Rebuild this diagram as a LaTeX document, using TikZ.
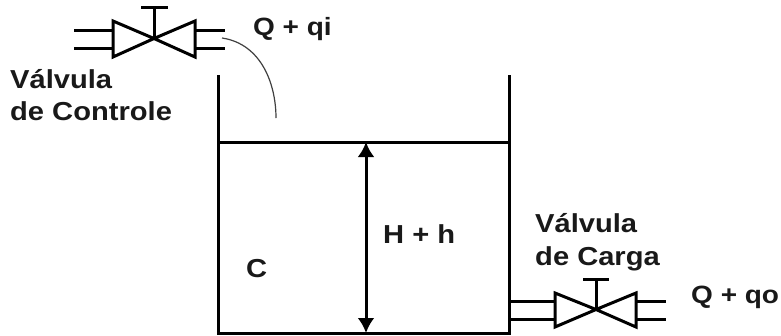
\documentclass[tikz,border=0pt]{standalone}
\usepackage{fontspec}
\setmainfont[FakeStretch=1.12]{Liberation Sans}
\usetikzlibrary{arrows.meta}
\tikzset{
  ln/.style={draw=black,line width=3pt},
  flowcurve/.style={draw=black!75,line width=1.2pt},
  lbl/.style={font=\fontsize{26}{30}\selectfont\bfseries,text=black!90,inner sep=0pt,anchor=base west},
  qlbl/.style={lbl,font=\fontsize{25}{30}\selectfont\bfseries},
  bi/.style={ln,{Latex[length=15pt,width=17pt]}-{Latex[length=15pt,width=17pt]}}
}
\begin{document}
\begin{tikzpicture}[x=1pt,y=-1pt]
\useasboundingbox[fill=white] (0,0) rectangle (781,335);
% top valve
\coordinate (tc) at (154,38.5);
\draw[ln] (tc) -- (113,21) -- (113,57) -- cycle;
\draw[ln] (tc) -- (195,21) -- (195,57) -- cycle;
\draw[ln] (tc) -- (154,7);
\draw[ln] (141,7) -- (168,7);
\draw[ln] (74,30) -- (113,30);
\draw[ln] (74,48) -- (113,48);
\draw[ln] (195,30) -- (225,30);
\draw[ln] (195,48) -- (225,48);
% flow curve
\coordinate (fa) at (222,38);
\coordinate (fb) at (276,118);
\draw[flowcurve] (fa) .. controls (262,44) and (276,85) .. (fb);
% tank
\coordinate (lt) at (218,75);
\coordinate (rt) at (509,75);
\coordinate (lb) at (218,333);
\coordinate (rb) at (509,333);
\draw[ln] (lt) -- (lb) -- (rb) -- (rt);
\draw[ln] (218,142) -- (509,142);
\coordinate (at) at (366,142);
\coordinate (ab) at (366,333);
\draw[bi] (at) -- (ab);
% bottom valve
\coordinate (bc) at (596,309.5);
\draw[ln] (bc) -- (555,293) -- (555,327) -- cycle;
\draw[ln] (bc) -- (636,293) -- (636,327) -- cycle;
\draw[ln] (bc) -- (596,279);
\draw[ln] (583,279) -- (609,279);
\draw[ln] (509,301) -- (555,301);
\draw[ln] (509,319) -- (555,319);
\draw[ln] (636,301) -- (666,301);
\draw[ln] (636,319) -- (666,319);
% labels
\node[qlbl] (qi) at (253,35) {Q + qi};
\node[lbl] (v1) at (10,88) {Válvula};
\node[lbl] (v2) at (10,120) {de Controle};
\node[lbl] (hh) at (383,243) {H + h};
\node[lbl] (cc) at (246,277) {C};
\node[lbl] (v3) at (535,232) {Válvula};
\node[lbl] (v4) at (535,265) {de Carga};
\node[qlbl] (qo) at (691,303) {Q + qo};
\end{tikzpicture}
\end{document}
